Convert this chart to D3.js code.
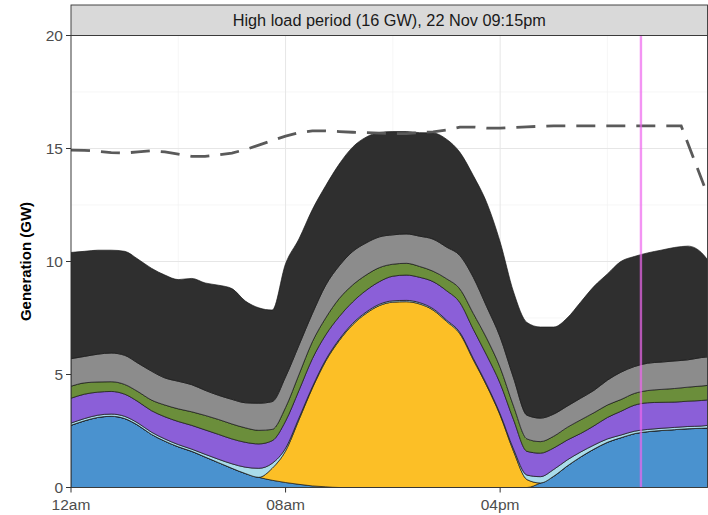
<!DOCTYPE html>
<html>
<head>
<meta charset="utf-8">
<script src="https://cdn.jsdelivr.net/npm/d3@7"></script>
<style>
  body { margin: 0; background: #fff; }
  svg { display: block; font-family: "Liberation Sans", Arial, sans-serif; }
</style>
</head>
<body>
<div id="chart"></div>
<script>
// time of day in hours (half-hourly, last point 11:45pm)
var hours = [0, 0.5, 1, 1.5, 2, 2.5, 3, 3.5, 4, 4.5, 5, 5.5, 6, 6.5, 7, 7.5, 8, 8.5, 9, 9.5,
  10, 10.5, 11, 11.5, 12, 12.5, 13, 13.5, 14, 14.5, 15, 15.5, 16, 16.5, 17, 17.5, 18, 18.5, 19, 19.5,
  20, 20.5, 21, 21.5, 22, 22.5, 23, 23.5, 23.75]

// generation by layer, GW (bottom to top of stack)
var hydro = [2.75, 2.95, 3.10, 3.15, 3.05, 2.75, 2.35, 2.05, 1.80, 1.60, 1.35, 1.10, 0.85, 0.62, 0.45, 0.32, 0.22, 0.14, 0.07, 0.03,
  0, 0, 0, 0, 0, 0, 0, 0, 0, 0, 0, 0, 0, 0, 0, 0.20, 0.50, 0.95, 1.35, 1.70,
  2.00, 2.20, 2.38, 2.47, 2.52, 2.56, 2.60, 2.62, 2.63]
var solar = [0, 0, 0, 0, 0, 0, 0, 0, 0, 0, 0, 0, 0, 0, 0, 0.53, 1.40, 2.86, 4.33, 5.57,
  6.50, 7.20, 7.70, 8.05, 8.20, 8.22, 8.12, 7.85, 7.35, 6.80, 5.65, 4.50, 3.20, 1.60, 0.35, 0, 0, 0, 0, 0,
  0, 0, 0, 0, 0, 0, 0, 0, 0]
var wind = [0.10, 0.10, 0.10, 0.10, 0.10, 0.10, 0.10, 0.10, 0.10, 0.10, 0.12, 0.15, 0.20, 0.28, 0.40, 0.22, 0.12, 0.08, 0.06, 0.06,
  0.06, 0.06, 0.06, 0.06, 0.06, 0.06, 0.06, 0.06, 0.06, 0.06, 0.06, 0.06, 0.06, 0.10, 0.20, 0.28, 0.30, 0.27, 0.22, 0.18,
  0.15, 0.12, 0.11, 0.10, 0.10, 0.10, 0.10, 0.10, 0.12]
var gas = [1.10, 1.08, 1.02, 1.00, 0.98, 0.95, 0.95, 0.98, 1.02, 1.05, 1.08, 1.10, 1.10, 1.10, 1.08, 1.00, 1.20, 1.22, 1.24, 1.10,
  1.00, 0.95, 0.96, 1.00, 1.09, 1.12, 1.12, 1.20, 1.30, 1.32, 1.29, 1.29, 1.35, 1.30, 1.05, 1.04, 0.95, 0.88, 0.82, 0.85,
  0.95, 1.05, 1.15, 1.18, 1.15, 1.12, 1.12, 1.13, 1.13]
var bio = [0.53, 0.50, 0.45, 0.43, 0.43, 0.44, 0.47, 0.52, 0.56, 0.60, 0.64, 0.66, 0.66, 0.64, 0.60, 0.50, 0.60, 0.70, 0.75, 0.75,
  0.80, 0.75, 0.68, 0.62, 0.53, 0.52, 0.48, 0.46, 0.53, 0.60, 0.70, 0.75, 0.70, 0.60, 0.55, 0.51, 0.52, 0.56, 0.60, 0.58,
  0.55, 0.52, 0.52, 0.54, 0.57, 0.60, 0.62, 0.64, 0.64]
var other = [1.22, 1.17, 1.23, 1.27, 1.29, 1.26, 1.28, 1.20, 1.22, 1.20, 1.11, 1.07, 1.09, 1.11, 1.20, 1.23, 1.36, 1.30, 1.25, 1.45,
  1.45, 1.48, 1.42, 1.36, 1.30, 1.30, 1.34, 1.42, 1.40, 1.48, 1.60, 1.40, 1.35, 1.25, 1.05, 1.04, 0.98, 0.94, 0.96, 0.99,
  1.10, 1.21, 1.19, 1.21, 1.21, 1.22, 1.21, 1.26, 1.26]
var coal = [4.70, 4.65, 4.60, 4.55, 4.60, 4.60, 4.55, 4.55, 4.50, 4.70, 4.75, 4.87, 4.90, 4.50, 4.22, 4.05, 5.00, 4.70, 4.60, 4.40,
  4.50, 4.62, 4.68, 4.62, 4.57, 4.53, 4.58, 4.70, 4.77, 4.57, 4.50, 4.60, 4.20, 3.80, 4.10, 4.03, 3.85, 3.90, 4.25, 4.60,
  4.70, 4.90, 4.87, 4.88, 4.95, 5.02, 5.03, 4.65, 4.27]

// demand (dashed line)
var loadHours = [0, 0.5, 1, 1.5, 2, 2.5, 3, 3.5, 4, 4.5, 5, 5.5, 6, 6.5, 7, 7.5, 8, 8.5, 9, 9.5,
  10, 10.5, 11, 11.5, 12, 12.5, 13, 13.5, 14, 14.5, 15, 15.5, 16, 16.5, 17, 17.5, 18, 18.5, 19, 19.5,
  20, 20.5, 21, 21.5, 22, 22.5, 22.75, 23.75]
var loadGW = [14.93, 14.92, 14.88, 14.82, 14.80, 14.85, 14.90, 14.85, 14.75, 14.65, 14.65, 14.72, 14.80, 14.95, 15.15, 15.35, 15.55, 15.70, 15.78, 15.78,
  15.75, 15.72, 15.70, 15.68, 15.66, 15.66, 15.70, 15.74, 15.82, 15.95, 15.95, 15.90, 15.90, 15.93, 15.96, 15.98, 16.0, 16.0, 16.0, 16.0,
  16.0, 16.0, 16.0, 16.0, 16.0, 16.0, 16.0, 12.9]

var keys = ['hydro', 'solar', 'wind', 'gas', 'bio', 'other', 'coal']
var fills = ['#4a92cf', '#fcbf26', '#a9dcea', '#8b5fd8', '#6b8e3b', '#8c8c8c', '#2f2f2f']
var yTicks = [0, 5, 10, 15, 20]
var xTicks = [0, 8, 16]
var xTickLabels = ['12am', '08am', '04pm']
var markHour = 21.25
var title = 'High load period (16 GW), 22 Nov 09:15pm'

var width = 708, height = 515,
    panel = {left: 71, right: 707.5, top: 35.5, bottom: 487.5},
    stripTop = 5

var series = {hydro: hydro, solar: solar, wind: wind, gas: gas, bio: bio, other: other, coal: coal}
var rows = hours.map(function(h, i) {
  var r = {hour: h}
  keys.forEach(function(k) { r[k] = series[k][i] })
  return r
})

var x = d3.scaleLinear().domain([0, 23.75]).range([panel.left, 708])
var y = d3.scaleLinear().domain([0, 20]).range([panel.bottom, panel.top])

var svg = d3.select('#chart').append('svg')
    .attr('width', width)
    .attr('height', height)

svg.append('defs').append('clipPath').attr('id', 'clip')
  .append('rect')
    .attr('x', panel.left).attr('y', panel.top)
    .attr('width', panel.right - panel.left).attr('height', panel.bottom - panel.top)

// panel background + grid
svg.append('rect')
    .attr('x', panel.left).attr('y', panel.top)
    .attr('width', panel.right - panel.left).attr('height', panel.bottom - panel.top)
    .attr('fill', '#fff')

var grid = svg.append('g')
grid.selectAll('.ymin').data([2.5, 7.5, 12.5, 17.5]).enter().append('line')
    .attr('x1', panel.left).attr('x2', panel.right)
    .attr('y1', d => y(d)).attr('y2', d => y(d))
    .attr('stroke', '#f0f0f0').attr('stroke-width', 0.6)
grid.selectAll('.xmin').data([4, 12, 20]).enter().append('line')
    .attr('y1', panel.top).attr('y2', panel.bottom)
    .attr('x1', d => x(d)).attr('x2', d => x(d))
    .attr('stroke', '#f0f0f0').attr('stroke-width', 0.6)
grid.selectAll('.ymaj').data(yTicks).enter().append('line')
    .attr('x1', panel.left).attr('x2', panel.right)
    .attr('y1', d => y(d)).attr('y2', d => y(d))
    .attr('stroke', '#e6e6e6').attr('stroke-width', 1)
grid.selectAll('.xmaj').data(xTicks).enter().append('line')
    .attr('y1', panel.top).attr('y2', panel.bottom)
    .attr('x1', d => x(d)).attr('x2', d => x(d))
    .attr('stroke', '#e6e6e6').attr('stroke-width', 1)

// stacked areas
var stack = d3.stack().keys(keys)
var layers = stack(rows)

var area = d3.area()
    .x(d => x(d.data.hour))
    .y0(d => y(d[0]))
    .y1(d => y(d[1]))
    .curve(d3.curveMonotoneX)

var plot = svg.append('g').attr('clip-path', 'url(#clip)')

plot.selectAll('.layer')
  .data(layers)
  .enter().append('path')
    .attr('d', area)
    .attr('fill', (d, i) => fills[i])
    .attr('stroke', '#1a1a1a')
    .attr('stroke-width', 0.7)
    .attr('stroke-linejoin', 'round')

// demand line
var line = d3.line()
    .x(d => x(d[0]))
    .y(d => y(d[1]))

plot.append('path')
    .datum(loadHours.map((h, i) => [h, loadGW[i]]))
    .attr('d', line)
    .attr('fill', 'none')
    .attr('stroke', '#5a5a5a')
    .attr('stroke-width', 2.8)
    .attr('stroke-dasharray', '19,11')

// marker for the high load interval
plot.append('line')
    .attr('x1', x(markHour)).attr('x2', x(markHour))
    .attr('y1', panel.top).attr('y2', panel.bottom)
    .attr('stroke', '#ee66ee')
    .attr('stroke-opacity', 0.7)
    .attr('stroke-width', 2.4)

// panel border
svg.append('rect')
    .attr('x', panel.left).attr('y', panel.top)
    .attr('width', panel.right - panel.left).attr('height', panel.bottom - panel.top)
    .attr('fill', 'none')
    .attr('stroke', '#333')
    .attr('stroke-width', 0.9)

// facet strip
svg.append('rect')
    .attr('x', panel.left).attr('y', stripTop)
    .attr('width', panel.right - panel.left).attr('height', panel.top - stripTop)
    .attr('fill', '#d9d9d9')
    .attr('stroke', '#333')
    .attr('stroke-width', 0.9)

svg.append('text')
    .attr('x', (panel.left + panel.right) / 2)
    .attr('y', (stripTop + panel.top) / 2 + 5.5)
    .attr('text-anchor', 'middle')
    .attr('font-size', 16.3)
    .attr('fill', '#1a1a1a')
    .text(title)

// axes
var yAxis = svg.append('g')
yAxis.selectAll('line').data(yTicks).enter().append('line')
    .attr('x1', panel.left - 5).attr('x2', panel.left)
    .attr('y1', d => y(d)).attr('y2', d => y(d))
    .attr('stroke', '#333')
yAxis.selectAll('text').data(yTicks).enter().append('text')
    .attr('x', panel.left - 8)
    .attr('y', d => y(d) + 5.5)
    .attr('text-anchor', 'end')
    .attr('font-size', 15.5)
    .attr('fill', '#4d4d4d')
    .text(d => d)

var xAxis = svg.append('g')
xAxis.selectAll('line').data(xTicks).enter().append('line')
    .attr('y1', panel.bottom).attr('y2', panel.bottom + 5)
    .attr('x1', d => x(d)).attr('x2', d => x(d))
    .attr('stroke', '#333')
xAxis.selectAll('text').data(xTicks).enter().append('text')
    .attr('x', d => x(d))
    .attr('y', panel.bottom + 22)
    .attr('text-anchor', 'middle')
    .attr('font-size', 15.5)
    .attr('fill', '#4d4d4d')
    .text((d, i) => xTickLabels[i])

svg.append('text')
    .attr('transform', 'translate(31,' + (panel.top + panel.bottom) / 2 + ') rotate(-90)')
    .attr('text-anchor', 'middle')
    .attr('font-size', 15)
    .attr('font-weight', 'bold')
    .attr('fill', '#000')
    .text('Generation (GW)')
</script>
</body>
</html>
